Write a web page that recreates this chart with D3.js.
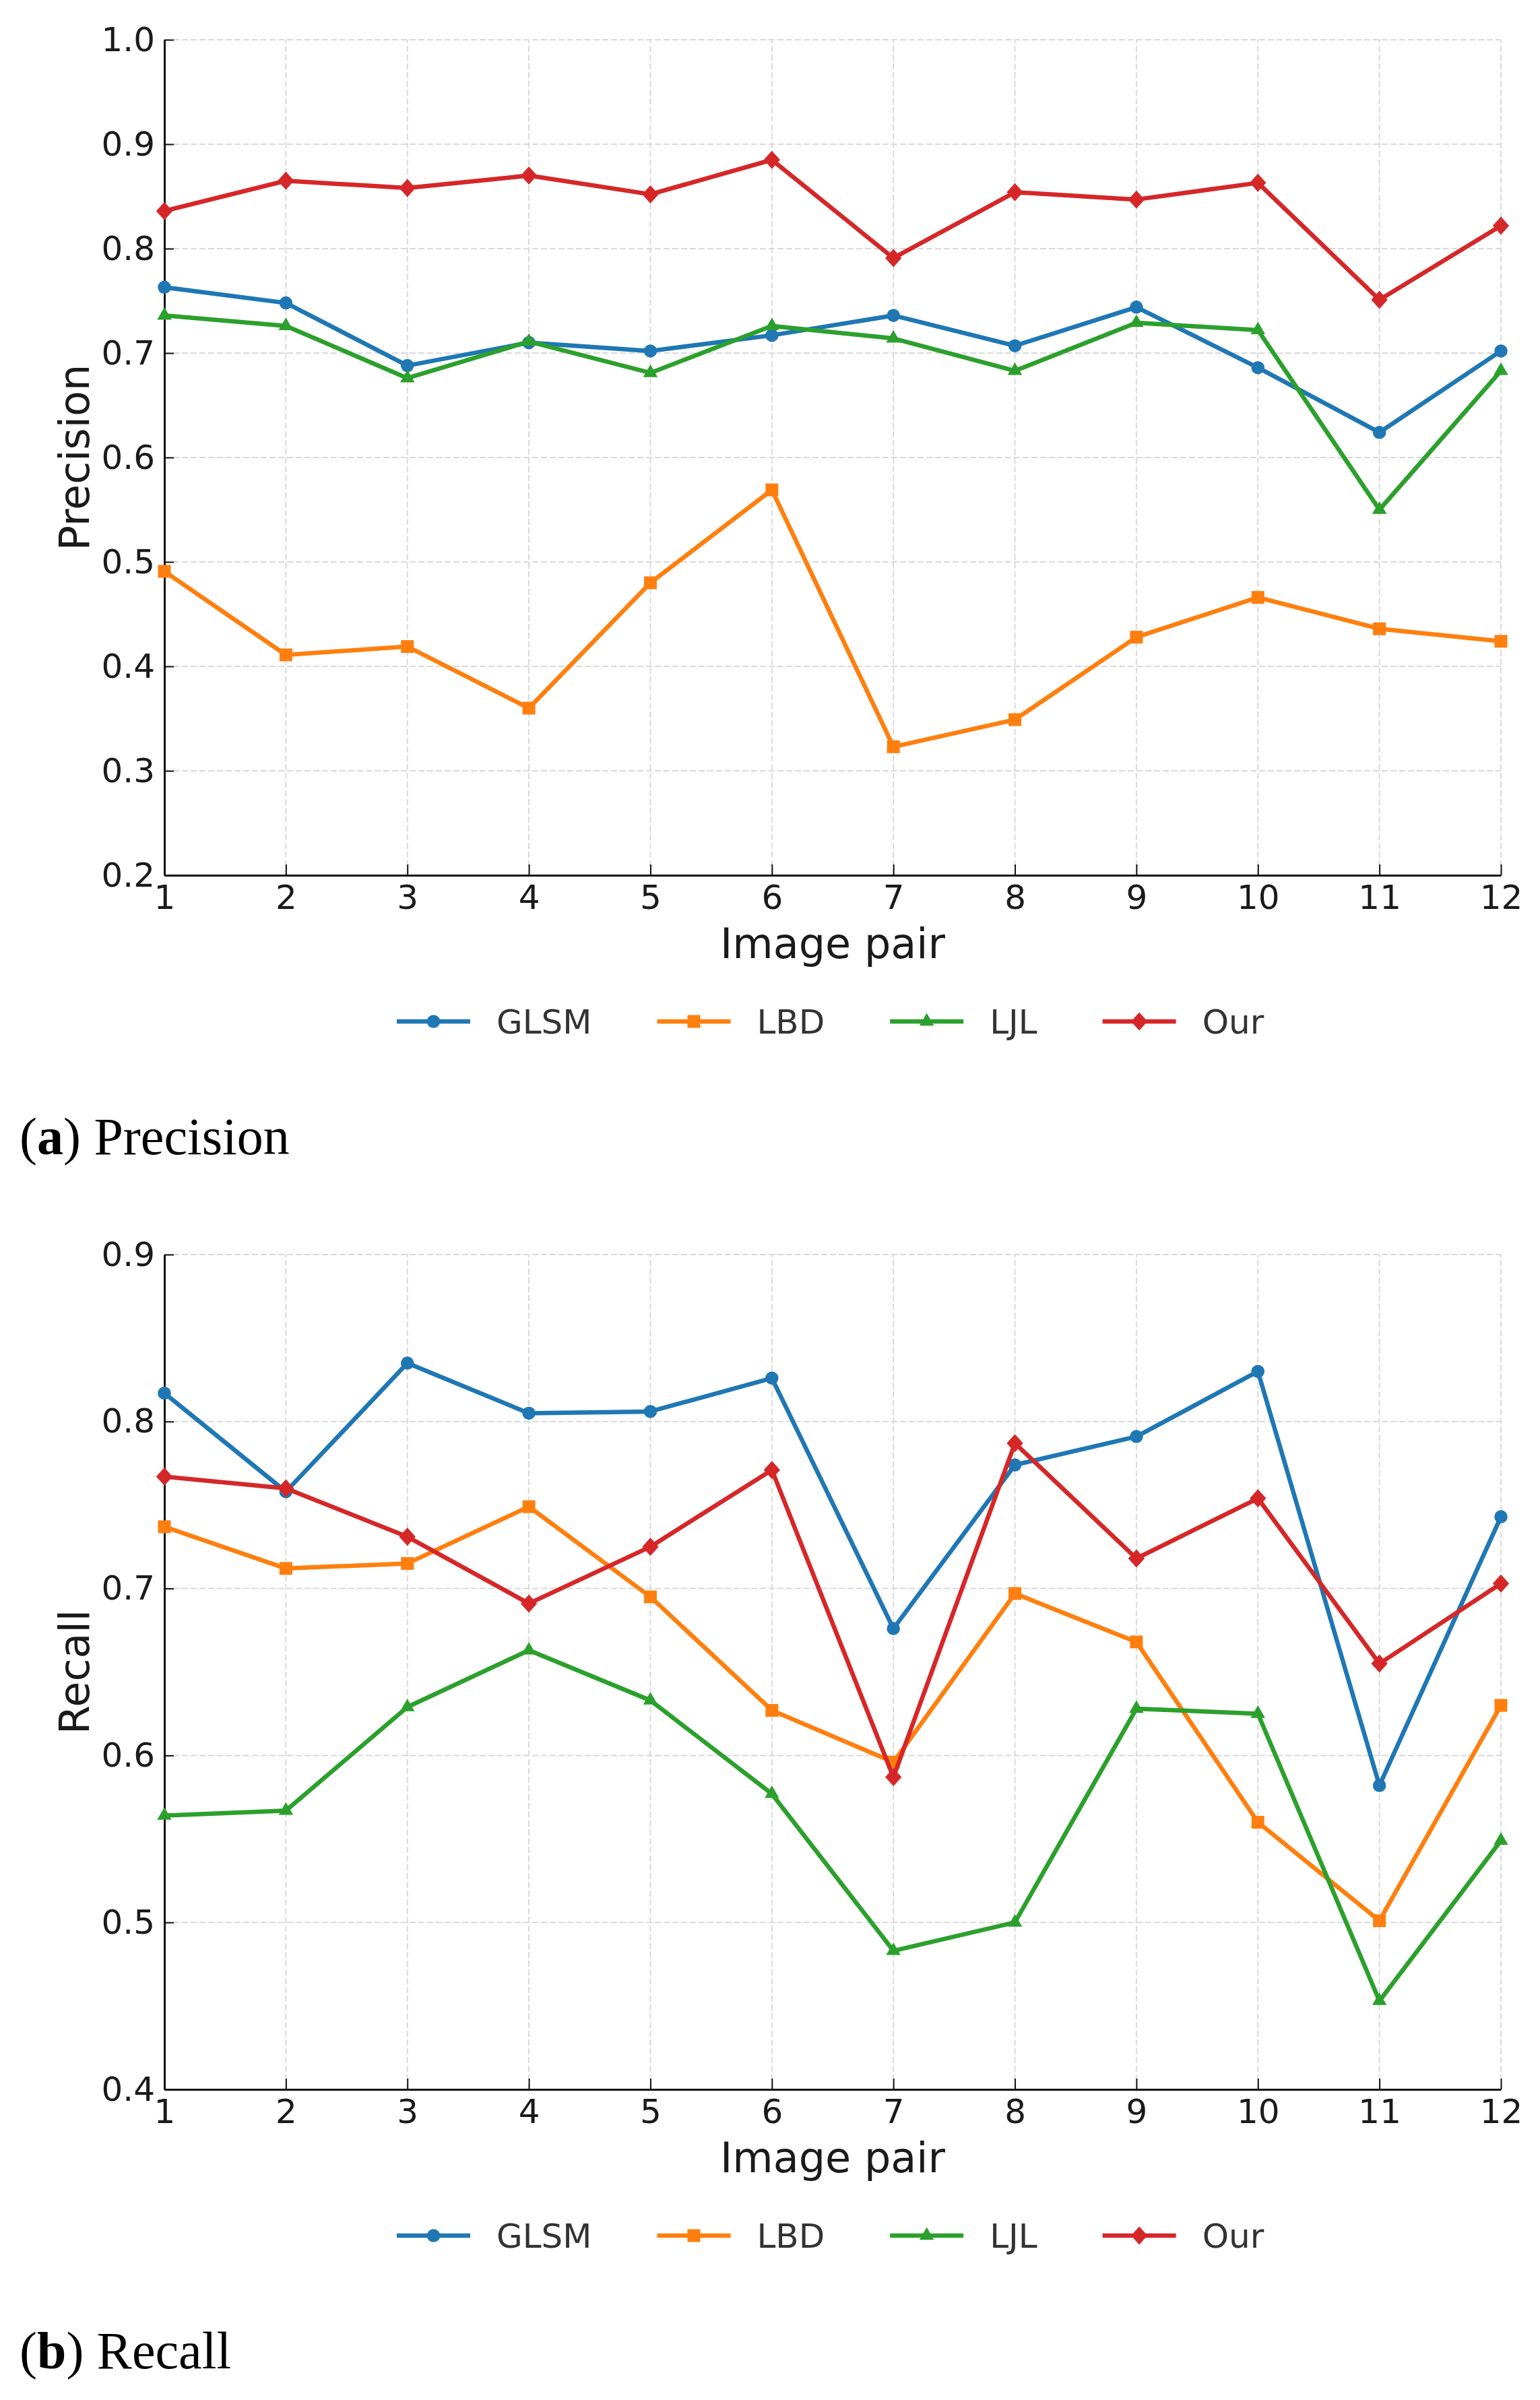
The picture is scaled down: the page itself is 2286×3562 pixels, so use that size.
<!DOCTYPE html>
<html>
<head>
<meta charset="utf-8">
<script src="https://cdn.jsdelivr.net/npm/d3@7"></script>
<style>
  html, body { margin: 0; padding: 0; background: #fff; }
  svg { display: block; }
</style>
</head>
<body>
<svg id="fig" width="2286" height="3562"></svg>
<script>
// image pairs on the x axis
var pairs = [1, 2, 3, 4, 5, 6, 7, 8, 9, 10, 11, 12];
var methods = ["GLSM", "LBD", "LJL", "Our"];

// (a) precision
var precGLSM = [0.763, 0.748, 0.688, 0.710, 0.702, 0.717, 0.736, 0.707, 0.744, 0.686, 0.624, 0.702];
var precLBD  = [0.491, 0.411, 0.419, 0.360, 0.480, 0.569, 0.323, 0.349, 0.428, 0.466, 0.436, 0.424];
var precLJL  = [0.736, 0.726, 0.676, 0.711, 0.681, 0.726, 0.714, 0.683, 0.729, 0.722, 0.550, 0.683];
var precOur  = [0.836, 0.865, 0.858, 0.870, 0.852, 0.885, 0.791, 0.854, 0.847, 0.863, 0.751, 0.822];

// (b) recall
var recGLSM = [0.817, 0.758, 0.835, 0.805, 0.806, 0.826, 0.676, 0.774, 0.791, 0.830, 0.582, 0.743];
var recLBD  = [0.737, 0.712, 0.715, 0.749, 0.695, 0.627, 0.596, 0.697, 0.668, 0.560, 0.501, 0.630];
var recLJL  = [0.564, 0.567, 0.629, 0.663, 0.633, 0.577, 0.483, 0.500, 0.628, 0.625, 0.453, 0.549];
var recOur  = [0.767, 0.760, 0.731, 0.691, 0.725, 0.771, 0.587, 0.787, 0.718, 0.754, 0.655, 0.703];

var precTicks = [0.2, 0.3, 0.4, 0.5, 0.6, 0.7, 0.8, 0.9, 1.0];
var recTicks  = [0.4, 0.5, 0.6, 0.7, 0.8, 0.9];

var colors = ["#1f77b4", "#ff7f0e", "#2ca02c", "#d62728"];

// diamond, a bit taller than wide
var diamond = {
    draw: function(ctx, size){
        var h = Math.sqrt(size) * 0.5;
        var w = h * 0.9;
        ctx.moveTo(0, -h);
        ctx.lineTo(w, 0);
        ctx.lineTo(0, h);
        ctx.lineTo(-w, 0);
        ctx.closePath();
    }
};
var symbols = [
    d3.symbol().type(d3.symbolCircle).size(300),
    d3.symbol().type(d3.symbolSquare).size(360),
    d3.symbol().type(d3.symbolTriangle).size(200),
    d3.symbol().type(diamond).size(730)
];

var svg = d3.select("#fig");
svg.append("rect").attr("width", 2286).attr("height", 3562).attr("fill", "#fff");

var x = d3.scaleLinear().domain([1, 12]).range([244, 2228]);

function panel(top, bottom, domain, ticks, series, ylabel, letter, caption){
    var y = d3.scaleLinear().domain(domain).range([bottom, top]);
    var g = svg.append("g");

    // grid
    g.append("g").selectAll("line").data(ticks).enter().append("line")
        .attr("x1", x(1)).attr("x2", x(12))
        .attr("y1", function(d){ return y(d); })
        .attr("y2", function(d){ return y(d); })
        .attr("stroke", "#d9d9d9").attr("stroke-width", 2)
        .attr("stroke-dasharray", "9,4");
    g.append("g").selectAll("line").data(pairs).enter().append("line")
        .attr("x1", function(d){ return x(d); })
        .attr("x2", function(d){ return x(d); })
        .attr("y1", y(domain[0])).attr("y2", y(domain[1]))
        .attr("stroke", "#d9d9d9").attr("stroke-width", 2)
        .attr("stroke-dasharray", "9,4");

    // axes, ticks pointing inward
    var xAxis = d3.axisBottom(x).tickValues(pairs).tickFormat(d3.format("d"))
        .tickSizeInner(-16).tickSizeOuter(0).tickPadding(14);
    var yAxis = d3.axisLeft(y).tickValues(ticks).tickFormat(d3.format(".1f"))
        .tickSizeInner(-14).tickSizeOuter(0).tickPadding(14);

    var gx = g.append("g").attr("transform", "translate(0," + bottom + ")").call(xAxis);
    var gy = g.append("g").attr("transform", "translate(" + x(1) + ",0)").call(yAxis);
    [gx, gy].forEach(function(a){
        a.select(".domain").attr("stroke", "#111").attr("stroke-width", 3);
        a.selectAll(".tick line").attr("stroke", "#111").attr("stroke-width", 2);
        a.selectAll(".tick text").attr("fill", "#1a1a1a")
            .style("font-family", "DejaVu Sans").style("font-size", "50px");
    });
    gx.selectAll(".tick text").attr("dy", "0.72em");

    // lines and markers
    var line = d3.line().x(function(d, i){ return x(pairs[i]); }).y(function(d){ return y(d); });
    series.forEach(function(vals, k){
        g.append("path").datum(vals)
            .attr("d", line).attr("fill", "none")
            .attr("stroke", colors[k]).attr("stroke-width", 6.5)
            .attr("stroke-linejoin", "round");
        g.append("g").selectAll("path").data(vals).enter().append("path")
            .attr("d", symbols[k])
            .attr("transform", function(d, i){ return "translate(" + x(pairs[i]) + "," + y(d) + ")"; })
            .attr("fill", colors[k]);
    });

    // axis labels
    g.append("text")
        .attr("x", (x(1) + x(12)) / 2).attr("y", bottom + 123)
        .attr("text-anchor", "middle")
        .style("font-family", "DejaVu Sans").style("font-size", "62px").attr("fill", "#1a1a1a")
        .text("Image pair");
    g.append("text")
        .attr("transform", "translate(132," + (top + bottom) / 2 + ") rotate(-90)")
        .attr("text-anchor", "middle")
        .style("font-family", "DejaVu Sans").style("font-size", "62px").attr("fill", "#1a1a1a")
        .text(ylabel);

    // legend, one row under the axis
    var ly = bottom + 217;
    var leg = g.append("g");
    var cx = 589;
    methods.forEach(function(m, k){
        var item = leg.append("g");
        item.append("line")
            .attr("x1", cx).attr("x2", cx + 109).attr("y1", ly).attr("y2", ly)
            .attr("stroke", colors[k]).attr("stroke-width", 6.5);
        item.append("path").attr("d", symbols[k])
            .attr("transform", "translate(" + (cx + 54.5) + "," + ly + ")")
            .attr("fill", colors[k]);
        var t = item.append("text")
            .attr("x", cx + 148).attr("y", ly).attr("dy", "0.36em")
            .style("font-family", "DejaVu Sans").style("font-size", "50px").attr("fill", "#333")
            .text(m);
        cx += 148 + t.node().getComputedTextLength() + 97;
    });

    // caption
    var cap = g.append("text")
        .attr("x", 29).attr("y", bottom + 414)
        .style("font-family", "Liberation Serif").style("font-size", "78px").attr("fill", "#000");
    cap.append("tspan").text("(");
    cap.append("tspan").style("font-weight", "bold").text(letter);
    cap.append("tspan").text(") " + caption);
}

panel(59, 1299, [0.2, 1.0], precTicks, [precGLSM, precLBD, precLJL, precOur], "Precision", "a", "Precision");
panel(1862, 3101, [0.4, 0.9], recTicks, [recGLSM, recLBD, recLJL, recOur], "Recall", "b", "Recall");
</script>
</body>
</html>
